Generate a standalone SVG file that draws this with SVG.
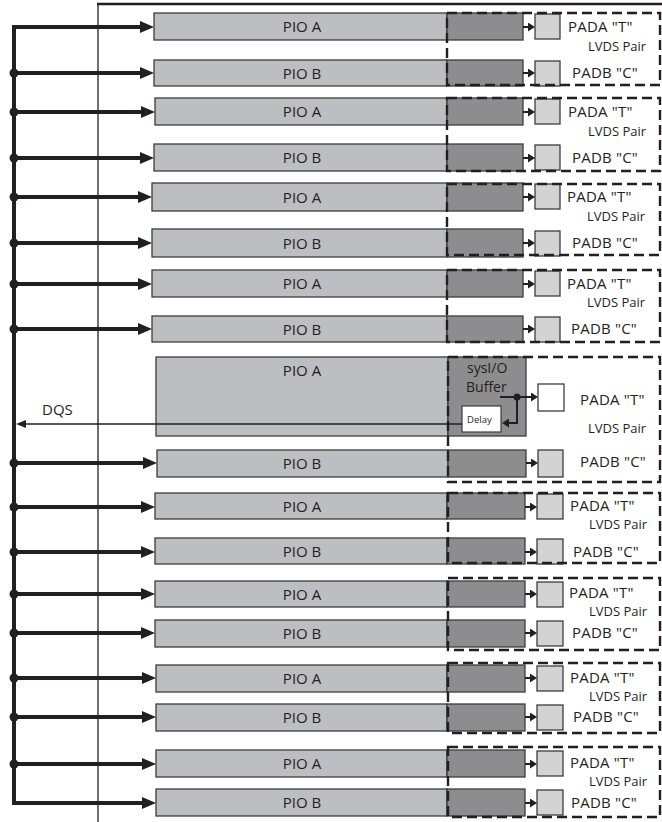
<svg xmlns="http://www.w3.org/2000/svg" width="662" height="822" viewBox="0 0 662 822">
<style>
.bar{fill:#bdbec1;stroke:#3c3c3e;stroke-width:1.3}
.dark{fill:#8d8d90;stroke:#3c3c3e;stroke-width:1.3}
.pad{fill:#d3d3d4;stroke:#3c3c3e;stroke-width:1.3}
.padw{fill:#ffffff;stroke:#3c3c3e;stroke-width:1.3}
.dash{fill:none;stroke:#231f20;stroke-width:2.4;stroke-dasharray:10 5}
.bus{fill:none;stroke:#231f20;stroke-width:4}
.thin{fill:none;stroke:#231f20;stroke-width:2}
.dqs{fill:none;stroke:#231f20;stroke-width:1.5}
.dot{fill:#231f20}
text{font-family:"Open Sans","Noto Sans",sans-serif;fill:#231f20}
.pio{font-size:15px;text-anchor:middle}
.lbl{font-size:14px}
.pl{font-size:15px;letter-spacing:0.2px}
.lv{font-size:13px}
.sm{font-size:9.5px}
</style>
<defs>
<marker id="big" markerUnits="userSpaceOnUse" markerWidth="14" markerHeight="12" refX="4" refY="6" orient="auto"><path d="M0,0 L14,6 L0,12 Z" fill="#231f20"/></marker>
<marker id="sm" markerUnits="userSpaceOnUse" markerWidth="7" markerHeight="9" refX="1" refY="4.5" orient="auto"><path d="M0,0 L7,4.5 L0,9 Z" fill="#231f20"/></marker>
<marker id="dq" markerUnits="userSpaceOnUse" markerWidth="10" markerHeight="8" refX="2" refY="4" orient="auto"><path d="M0,0 L10,4 L0,8 Z" fill="#231f20"/></marker>
</defs>

<g id="frame">
<line x1="98" y1="3" x2="98" y2="822" stroke="#4a4a4c" stroke-width="1.6"/>
<line x1="97" y1="4" x2="662" y2="4" stroke="#231f20" stroke-width="2.5"/>
</g>

<!-- PIO rows -->
<g id="row1"><rect class="bar" x="154" y="13" width="293" height="27"/><rect class="dark" x="447" y="13" width="76" height="27"/><text class="pio" x="302" y="32">PIO A</text></g>
<g id="row2"><rect class="bar" x="154" y="60" width="293" height="26"/><rect class="dark" x="447" y="60" width="76" height="26"/><text class="pio" x="302" y="78.5">PIO B</text></g>
<g id="row3"><rect class="bar" x="155" y="98" width="292" height="27"/><rect class="dark" x="447" y="98" width="76" height="27"/><text class="pio" x="302" y="117">PIO A</text></g>
<g id="row4"><rect class="bar" x="154" y="144" width="293" height="27"/><rect class="dark" x="447" y="144" width="76" height="27"/><text class="pio" x="302" y="163">PIO B</text></g>
<g id="row5"><rect class="bar" x="152" y="183" width="295" height="28"/><rect class="dark" x="447" y="183" width="76" height="28"/><text class="pio" x="302" y="202.5">PIO A</text></g>
<g id="row6"><rect class="bar" x="152" y="229" width="295" height="28"/><rect class="dark" x="447" y="229" width="76" height="28"/><text class="pio" x="302" y="248.5">PIO B</text></g>
<g id="row7"><rect class="bar" x="152" y="270" width="295" height="27"/><rect class="dark" x="447" y="270" width="76" height="27"/><text class="pio" x="302" y="289">PIO A</text></g>
<g id="row8"><rect class="bar" x="152" y="316" width="295" height="26"/><rect class="dark" x="447" y="316" width="76" height="26"/><text class="pio" x="302" y="334.5">PIO B</text></g>
<g id="rowDQS">
<rect class="bar" x="156" y="357" width="292" height="79"/><rect class="dark" x="448" y="357" width="78" height="79"/>
<text class="pio" x="302" y="376">PIO A</text>
<text class="lbl" x="467" y="373">sysI/O</text>
<text class="lbl" x="466" y="392">Buffer</text>
</g>
<g id="delay"><rect x="462" y="406" width="39" height="26" fill="#ffffff" stroke="#3c3c3e" stroke-width="1.2"/><text class="sm" x="467" y="423">Delay</text></g>
<g id="row9"><rect class="bar" x="157" y="450" width="291" height="27"/><rect class="dark" x="448" y="450" width="78" height="27"/><text class="pio" x="302" y="469">PIO B</text></g>
<g id="row10"><rect class="bar" x="155" y="493" width="292" height="26"/><rect class="dark" x="447" y="493" width="78" height="26"/><text class="pio" x="302" y="511.5">PIO A</text></g>
<g id="row11"><rect class="bar" x="155" y="538" width="292" height="26"/><rect class="dark" x="447" y="538" width="78" height="26"/><text class="pio" x="302" y="556.5">PIO B</text></g>
<g id="row12"><rect class="bar" x="155" y="581" width="292" height="26"/><rect class="dark" x="447" y="581" width="78" height="26"/><text class="pio" x="302" y="599.5">PIO A</text></g>
<g id="row13"><rect class="bar" x="155" y="620" width="292" height="27"/><rect class="dark" x="447" y="620" width="78" height="27"/><text class="pio" x="302" y="639">PIO B</text></g>
<g id="row14"><rect class="bar" x="156" y="665" width="291" height="27"/><rect class="dark" x="447" y="665" width="78" height="27"/><text class="pio" x="302" y="684">PIO A</text></g>
<g id="row15"><rect class="bar" x="156" y="704" width="291" height="27"/><rect class="dark" x="447" y="704" width="78" height="27"/><text class="pio" x="302" y="723">PIO B</text></g>
<g id="row16"><rect class="bar" x="156" y="750" width="291" height="27"/><rect class="dark" x="447" y="750" width="78" height="27"/><text class="pio" x="302" y="769">PIO A</text></g>
<g id="row17"><rect class="bar" x="156" y="789" width="291" height="27"/><rect class="dark" x="447" y="789" width="78" height="27"/><text class="pio" x="302" y="808">PIO B</text></g>

<!-- pads -->
<g id="pads">
<rect class="pad" x="535" y="14" width="25" height="25"/>
<rect class="pad" x="535" y="61" width="25" height="25"/>
<rect class="pad" x="535" y="99" width="25" height="25"/>
<rect class="pad" x="535" y="145" width="25" height="25"/>
<rect class="pad" x="535" y="184" width="25" height="25"/>
<rect class="pad" x="535" y="231" width="25" height="25"/>
<rect class="pad" x="535" y="271" width="25" height="25"/>
<rect class="pad" x="535" y="317" width="25" height="25"/>
<rect class="padw" x="538" y="384" width="26" height="27"/>
<rect class="pad" x="538" y="450" width="25" height="27"/>
<rect class="pad" x="537" y="494" width="26" height="25"/>
<rect class="pad" x="537" y="539" width="26" height="25"/>
<rect class="pad" x="537" y="582" width="26" height="25"/>
<rect class="pad" x="537" y="621" width="26" height="25"/>
<rect class="pad" x="537" y="666" width="26" height="25"/>
<rect class="pad" x="537" y="705" width="26" height="25"/>
<rect class="pad" x="537" y="751" width="26" height="25"/>
<rect class="pad" x="537" y="790" width="26" height="25"/>
</g>

<!-- LVDS pair dashed groups -->
<g id="pair1"><rect class="dash" x="447" y="13" width="213" height="72"/><text class="pl" x="568" y="32">PADA "T"</text><text class="lv" x="588" y="51">LVDS Pair</text><text class="pl" x="572" y="78">PADB "C"</text></g>
<g id="pair2"><rect class="dash" x="447" y="98" width="213" height="73"/><text class="pl" x="568" y="117">PADA "T"</text><text class="lv" x="588" y="136">LVDS Pair</text><text class="pl" x="572" y="163">PADB "C"</text></g>
<g id="pair3"><rect class="dash" x="447" y="184" width="213" height="71"/><text class="pl" x="567" y="202">PADA "T"</text><text class="lv" x="587" y="221">LVDS Pair</text><text class="pl" x="572" y="248">PADB "C"</text></g>
<g id="pair4"><rect class="dash" x="447" y="270" width="213" height="72"/><text class="pl" x="567" y="289">PADA "T"</text><text class="lv" x="587" y="307">LVDS Pair</text><text class="pl" x="571" y="334">PADB "C"</text></g>
<g id="pairDQS"><rect class="dash" x="448" y="357" width="212" height="125"/><text class="pl" x="580" y="405">PADA "T"</text><text class="lv" x="588" y="433">LVDS Pair</text><text class="pl" x="580" y="467">PADB "C"</text></g>
<g id="pair5"><rect class="dash" x="448" y="493" width="212" height="70"/><text class="pl" x="570" y="511">PADA "T"</text><text class="lv" x="589" y="529">LVDS Pair</text><text class="pl" x="573" y="557">PADB "C"</text></g>
<g id="pair6"><rect class="dash" x="448" y="578" width="212" height="72"/><text class="pl" x="569" y="598">PADA "T"</text><text class="lv" x="589" y="616">LVDS Pair</text><text class="pl" x="572" y="638">PADB "C"</text></g>
<g id="pair7"><rect class="dash" x="448" y="663" width="212" height="70"/><text class="pl" x="570" y="683">PADA "T"</text><text class="lv" x="589" y="701">LVDS Pair</text><text class="pl" x="573" y="722">PADB "C"</text></g>
<g id="pair8"><rect class="dash" x="448" y="747" width="212" height="70"/><text class="pl" x="570" y="768">PADA "T"</text><text class="lv" x="589" y="786">LVDS Pair</text><text class="pl" x="571" y="808">PADB "C"</text></g>

<!-- connectors -->
<g id="connectors">
<line class="bus" x1="14" y1="25" x2="14" y2="805"/>
<line class="bus" x1="12" y1="27" x2="144" y2="27" marker-end="url(#big)"/>
<line class="bus" x1="14" y1="73" x2="144" y2="73" marker-end="url(#big)"/>
<line class="bus" x1="14" y1="112" x2="145" y2="112" marker-end="url(#big)"/>
<line class="bus" x1="14" y1="158" x2="144" y2="158" marker-end="url(#big)"/>
<line class="bus" x1="14" y1="197" x2="142" y2="197" marker-end="url(#big)"/>
<line class="bus" x1="14" y1="243" x2="142" y2="243" marker-end="url(#big)"/>
<line class="bus" x1="14" y1="284" x2="142" y2="284" marker-end="url(#big)"/>
<line class="bus" x1="14" y1="329" x2="142" y2="329" marker-end="url(#big)"/>
<line class="bus" x1="14" y1="463" x2="147" y2="463" marker-end="url(#big)"/>
<line class="bus" x1="14" y1="507" x2="145" y2="507" marker-end="url(#big)"/>
<line class="bus" x1="14" y1="552" x2="145" y2="552" marker-end="url(#big)"/>
<line class="bus" x1="14" y1="594" x2="145" y2="594" marker-end="url(#big)"/>
<line class="bus" x1="14" y1="633" x2="145" y2="633" marker-end="url(#big)"/>
<line class="bus" x1="14" y1="678" x2="146" y2="678" marker-end="url(#big)"/>
<line class="bus" x1="14" y1="717" x2="146" y2="717" marker-end="url(#big)"/>
<line class="bus" x1="14" y1="764" x2="146" y2="764" marker-end="url(#big)"/>
<line class="bus" x1="12" y1="803" x2="146" y2="803" marker-end="url(#big)"/>
<circle class="dot" cx="14" cy="73" r="4.5"/>
<circle class="dot" cx="14" cy="112" r="4.5"/>
<circle class="dot" cx="14" cy="158" r="4.5"/>
<circle class="dot" cx="14" cy="197" r="4.5"/>
<circle class="dot" cx="14" cy="243" r="4.5"/>
<circle class="dot" cx="14" cy="284" r="4.5"/>
<circle class="dot" cx="14" cy="329" r="4.5"/>
<circle class="dot" cx="14" cy="463" r="4.5"/>
<circle class="dot" cx="14" cy="507" r="4.5"/>
<circle class="dot" cx="14" cy="552" r="4.5"/>
<circle class="dot" cx="14" cy="594" r="4.5"/>
<circle class="dot" cx="14" cy="633" r="4.5"/>
<circle class="dot" cx="14" cy="678" r="4.5"/>
<circle class="dot" cx="14" cy="717" r="4.5"/>
<circle class="dot" cx="14" cy="764" r="4.5"/>
<!-- pad arrows -->
<line class="thin" x1="523" y1="27" x2="529" y2="27" marker-end="url(#sm)"/>
<line class="thin" x1="523" y1="73" x2="529" y2="73" marker-end="url(#sm)"/>
<line class="thin" x1="523" y1="112" x2="529" y2="112" marker-end="url(#sm)"/>
<line class="thin" x1="523" y1="158" x2="529" y2="158" marker-end="url(#sm)"/>
<line class="thin" x1="523" y1="197" x2="529" y2="197" marker-end="url(#sm)"/>
<line class="thin" x1="523" y1="243" x2="529" y2="243" marker-end="url(#sm)"/>
<line class="thin" x1="523" y1="284" x2="529" y2="284" marker-end="url(#sm)"/>
<line class="thin" x1="523" y1="329" x2="529" y2="329" marker-end="url(#sm)"/>
<line class="thin" x1="526" y1="463" x2="532" y2="463" marker-end="url(#sm)"/>
<line class="thin" x1="525" y1="507" x2="531" y2="507" marker-end="url(#sm)"/>
<line class="thin" x1="525" y1="552" x2="531" y2="552" marker-end="url(#sm)"/>
<line class="thin" x1="525" y1="594" x2="531" y2="594" marker-end="url(#sm)"/>
<line class="thin" x1="525" y1="633" x2="531" y2="633" marker-end="url(#sm)"/>
<line class="thin" x1="525" y1="678" x2="531" y2="678" marker-end="url(#sm)"/>
<line class="thin" x1="525" y1="717" x2="531" y2="717" marker-end="url(#sm)"/>
<line class="thin" x1="525" y1="764" x2="531" y2="764" marker-end="url(#sm)"/>
<line class="thin" x1="525" y1="803" x2="531" y2="803" marker-end="url(#sm)"/>
<!-- sysI/O buffer paths -->
<line class="thin" x1="500" y1="397" x2="532" y2="397" marker-end="url(#sm)"/>
<circle class="dot" cx="517" cy="397" r="3.5"/>
<polyline class="thin" points="517,397 517,423 508,423" marker-end="url(#sm)"/>
<line class="dqs" x1="462" y1="424" x2="24" y2="424" marker-end="url(#dq)"/>
<text x="42" y="415" style="font-size:15px">DQS</text>
</g>
</svg>
